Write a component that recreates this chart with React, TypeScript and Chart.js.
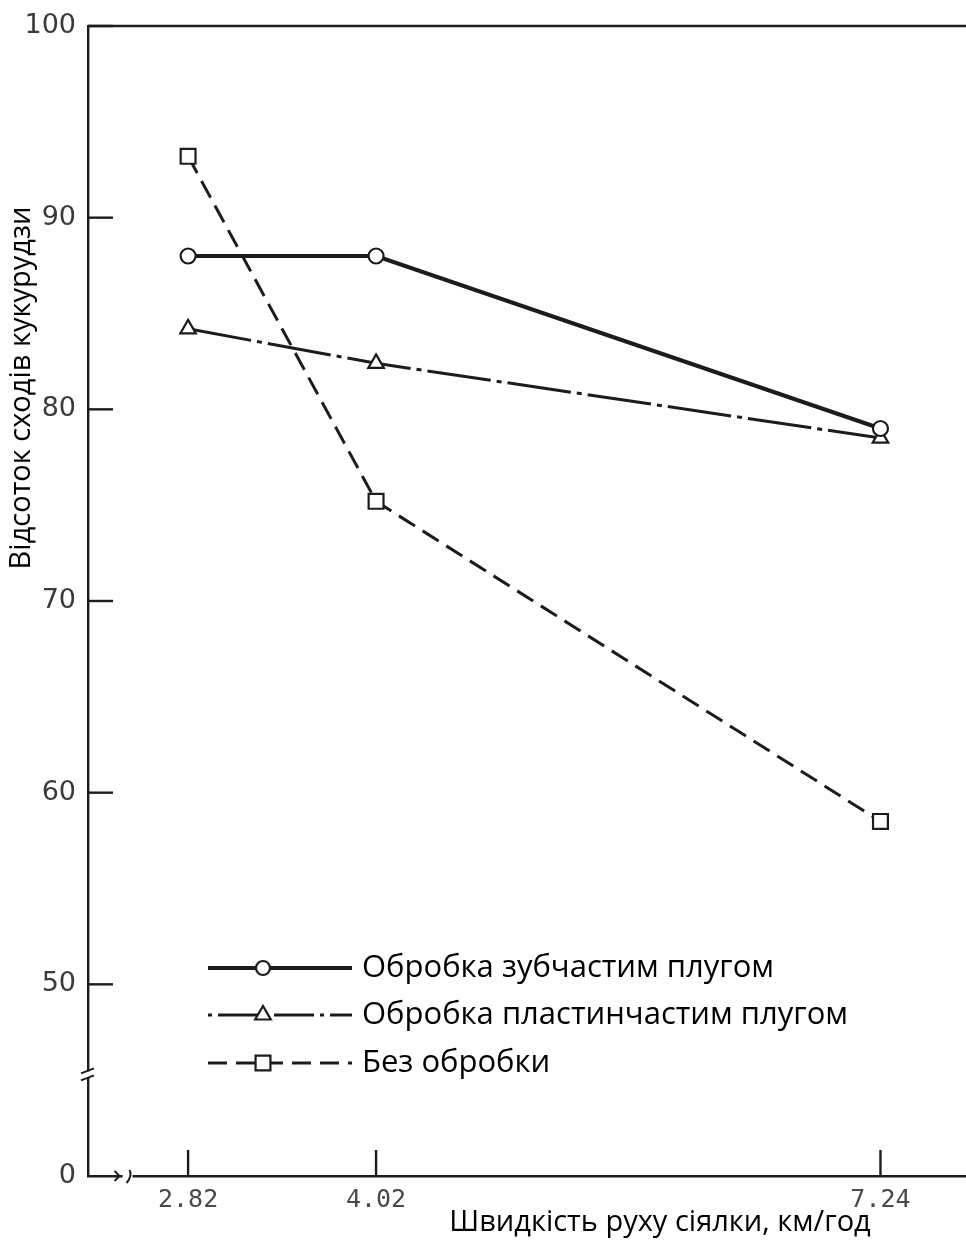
import React, { useEffect, useRef } from "react";
import { Chart, registerables } from "chart.js";

Chart.register(...registerables);

const speeds = [2.82, 4.02, 7.24];
const xTickValues = [2.82, 4.02, 7.24];
const yTickValues = [40, 50, 60, 70, 80, 90, 100];
const yTickLabels: Record<number, string> = { 40: "0", 50: "50", 60: "60", 70: "70", 80: "80", 90: "90", 100: "100" };

const seriesNames = ["Обробка зубчастим плугом", "Обробка пластинчастим плугом", "Без обробки"];
const toothPlough = [88, 88, 79];
const discPlough = [84.2, 82.4, 78.5];
const noTillage = [93.2, 75.2, 58.5];

const yTitle = "Відсоток сходів кукурудзи";
const xTitle = "Швидкість руху сіялки, км/год";

const INK = "#1c1c1c";
const TEXT_FONT = '"Open Sans", "Noto Sans", sans-serif';

function drawMarker(ctx: CanvasRenderingContext2D, style: string, x: number, y: number, r: number) {
  ctx.save();
  ctx.setLineDash([]);
  ctx.fillStyle = "#ffffff";
  ctx.strokeStyle = INK;
  ctx.lineWidth = 2.2;
  ctx.beginPath();
  if (style === "circle") {
    ctx.arc(x, y, r, 0, Math.PI * 2);
  } else if (style === "triangle") {
    ctx.moveTo(x, y - r);
    ctx.lineTo(x + r * 0.866, y + r * 0.5);
    ctx.lineTo(x - r * 0.866, y + r * 0.5);
    ctx.closePath();
  } else {
    const s = r * Math.SQRT1_2;
    ctx.rect(x - s, y - s, 2 * s, 2 * s);
  }
  ctx.fill();
  ctx.stroke();
  ctx.restore();
}

const decorPlugin = {
  id: "decor",
  afterDraw(chart: any) {
    const ctx: CanvasRenderingContext2D = chart.ctx;
    const area = chart.chartArea;
    const xs = chart.scales.x;
    const ys = chart.scales.y;
    ctx.save();
    ctx.strokeStyle = INK;
    ctx.lineWidth = 2.4;
    ctx.setLineDash([]);
    // top frame line
    ctx.beginPath();
    ctx.moveTo(area.left, area.top);
    ctx.lineTo(area.right, area.top);
    ctx.stroke();
    // inward y ticks
    yTickValues.forEach((v) => {
      if (v === 40) return;
      const py = ys.getPixelForValue(v);
      ctx.beginPath();
      ctx.moveTo(area.left, py);
      ctx.lineTo(area.left + 25, py);
      ctx.stroke();
    });
    // upward x ticks
    xTickValues.forEach((v) => {
      const px = xs.getPixelForValue(v);
      ctx.beginPath();
      ctx.moveTo(px, area.bottom);
      ctx.lineTo(px, area.bottom - 26);
      ctx.stroke();
    });
    // y axis break
    const by = ys.getPixelForValue(45.3);
    ctx.fillStyle = "#ffffff";
    ctx.fillRect(area.left - 4, by - 3, 8, 6);
    ctx.lineWidth = 2;
    ctx.beginPath();
    ctx.moveTo(area.left - 7, by - 1);
    ctx.lineTo(area.left + 6, by - 6);
    ctx.moveTo(area.left - 7, by + 6);
    ctx.lineTo(area.left + 6, by + 1);
    ctx.stroke();
    // x axis break
    const bx = xs.getPixelForValue(2.44);
    ctx.fillRect(bx - 6, area.bottom - 3, 10, 6);
    ctx.beginPath();
    ctx.moveTo(bx - 14, area.bottom - 5);
    ctx.lineTo(bx - 9, area.bottom);
    ctx.lineTo(bx - 14, area.bottom + 5);
    ctx.moveTo(bx + 1, area.bottom - 6);
    ctx.quadraticCurveTo(bx + 4, area.bottom, bx - 2, area.bottom + 7);
    ctx.stroke();

    // axis titles
    ctx.fillStyle = "#000000";
    ctx.font = `29px ${TEXT_FONT}`;
    ctx.textAlign = "center";
    ctx.textBaseline = "middle";
    ctx.save();
    ctx.translate(22, 388);
    ctx.rotate(-Math.PI / 2);
    ctx.fillText(yTitle, 0, 0);
    ctx.restore();
    ctx.fillText(xTitle, 660, 1223);

    // legend
    const rows = [968, 1015, 1063];
    chart.data.datasets.forEach((ds: any, i: number) => {
      const ry = rows[i];
      ctx.save();
      ctx.strokeStyle = INK;
      ctx.lineWidth = ds.borderWidth;
      ctx.setLineDash(ds.legendDash || ds.borderDash || []);
      ctx.beginPath();
      ctx.moveTo(208, ry);
      ctx.lineTo(352, ry);
      ctx.stroke();
      ctx.restore();
      drawMarker(ctx, ds.pointStyle, 263, ry, ds.legendRadius);
      ctx.fillStyle = "#000000";
      ctx.font = `31px ${TEXT_FONT}`;
      ctx.textAlign = "left";
      ctx.textBaseline = "middle";
      ctx.fillText(ds.label, 362, ry);
    });
    ctx.restore();
  },
};

export default function App() {
  const ref = useRef<HTMLCanvasElement | null>(null);
  useEffect(() => {
    document.body.style.margin = "0";
    const canvas = ref.current;
    if (!canvas) return;
    const mk = (arr: number[]) => speeds.map((s, i) => ({ x: s, y: arr[i] }));
    const chart = new Chart(canvas, {
      type: "line",
      data: {
        datasets: [
          {
            label: seriesNames[0],
            data: mk(toothPlough),
            borderColor: INK,
            borderWidth: 4,
            pointStyle: "circle",
            pointRadius: 7.5,
            pointBorderWidth: 2.2,
            pointBackgroundColor: "#ffffff",
            pointBorderColor: INK,
            legendRadius: 7,
          } as any,
          {
            label: seriesNames[1],
            data: mk(discPlough),
            borderColor: INK,
            borderWidth: 3,
            borderDash: [64, 6, 5, 6],
            legendDash: [4, 6, 40, 6],
            pointStyle: "triangle",
            pointRadius: 9,
            pointBorderWidth: 2.2,
            pointBackgroundColor: "#ffffff",
            pointBorderColor: INK,
            legendRadius: 9,
          } as any,
          {
            label: seriesNames[2],
            data: mk(noTillage),
            borderColor: INK,
            borderWidth: 3,
            borderDash: [19, 9],
            pointStyle: "rect",
            pointRadius: 10.5,
            pointBorderWidth: 2.2,
            pointBackgroundColor: "#ffffff",
            pointBorderColor: INK,
            legendRadius: 10.5,
          } as any,
        ],
      },
      options: {
        responsive: false,
        animation: false,
        layout: { padding: { top: 0, right: 0, bottom: 0, left: 0 } },
        plugins: { legend: { display: false }, tooltip: { enabled: false } },
        scales: {
          x: {
            type: "linear",
            min: 2.181,
            max: 7.788,
            afterBuildTicks: (s: any) => {
              s.ticks = xTickValues.map((v) => ({ value: v }));
            },
            afterFit: (s: any) => {
              s.height = 65;
            },
            grid: { display: false, drawTicks: false },
            border: { display: true, color: INK, width: 2.4 },
            ticks: {
              padding: 9,
              color: "#4a4a4a",
              font: { family: '"DejaVu Sans Mono", "Liberation Mono", monospace', size: 25 },
              callback: (v: any) => Number(v).toFixed(2),
              maxRotation: 0,
            },
          },
          y: {
            type: "linear",
            min: 40,
            max: 100,
            afterBuildTicks: (s: any) => {
              s.ticks = yTickValues.map((v) => ({ value: v }));
            },
            afterFit: (s: any) => {
              s.width = 88;
              s.paddingTop = 26;
            },
            grid: { display: false, drawTicks: false },
            border: { display: true, color: INK, width: 2.4 },
            ticks: {
              padding: 12,
              color: "#3a3a3a",
              font: { family: '"DejaVu Sans", sans-serif', size: 27 },
              callback: (v: any) => yTickLabels[Number(v)] ?? "",
            },
          },
        },
      } as any,
      plugins: [decorPlugin],
    });
    return () => chart.destroy();
  }, []);
  return (
    <div style={{ width: 966, height: 1241, background: "#fff", overflow: "hidden" }}>
      <canvas ref={ref} width={979} height={1241} style={{ display: "block" }} />
    </div>
  );
}
